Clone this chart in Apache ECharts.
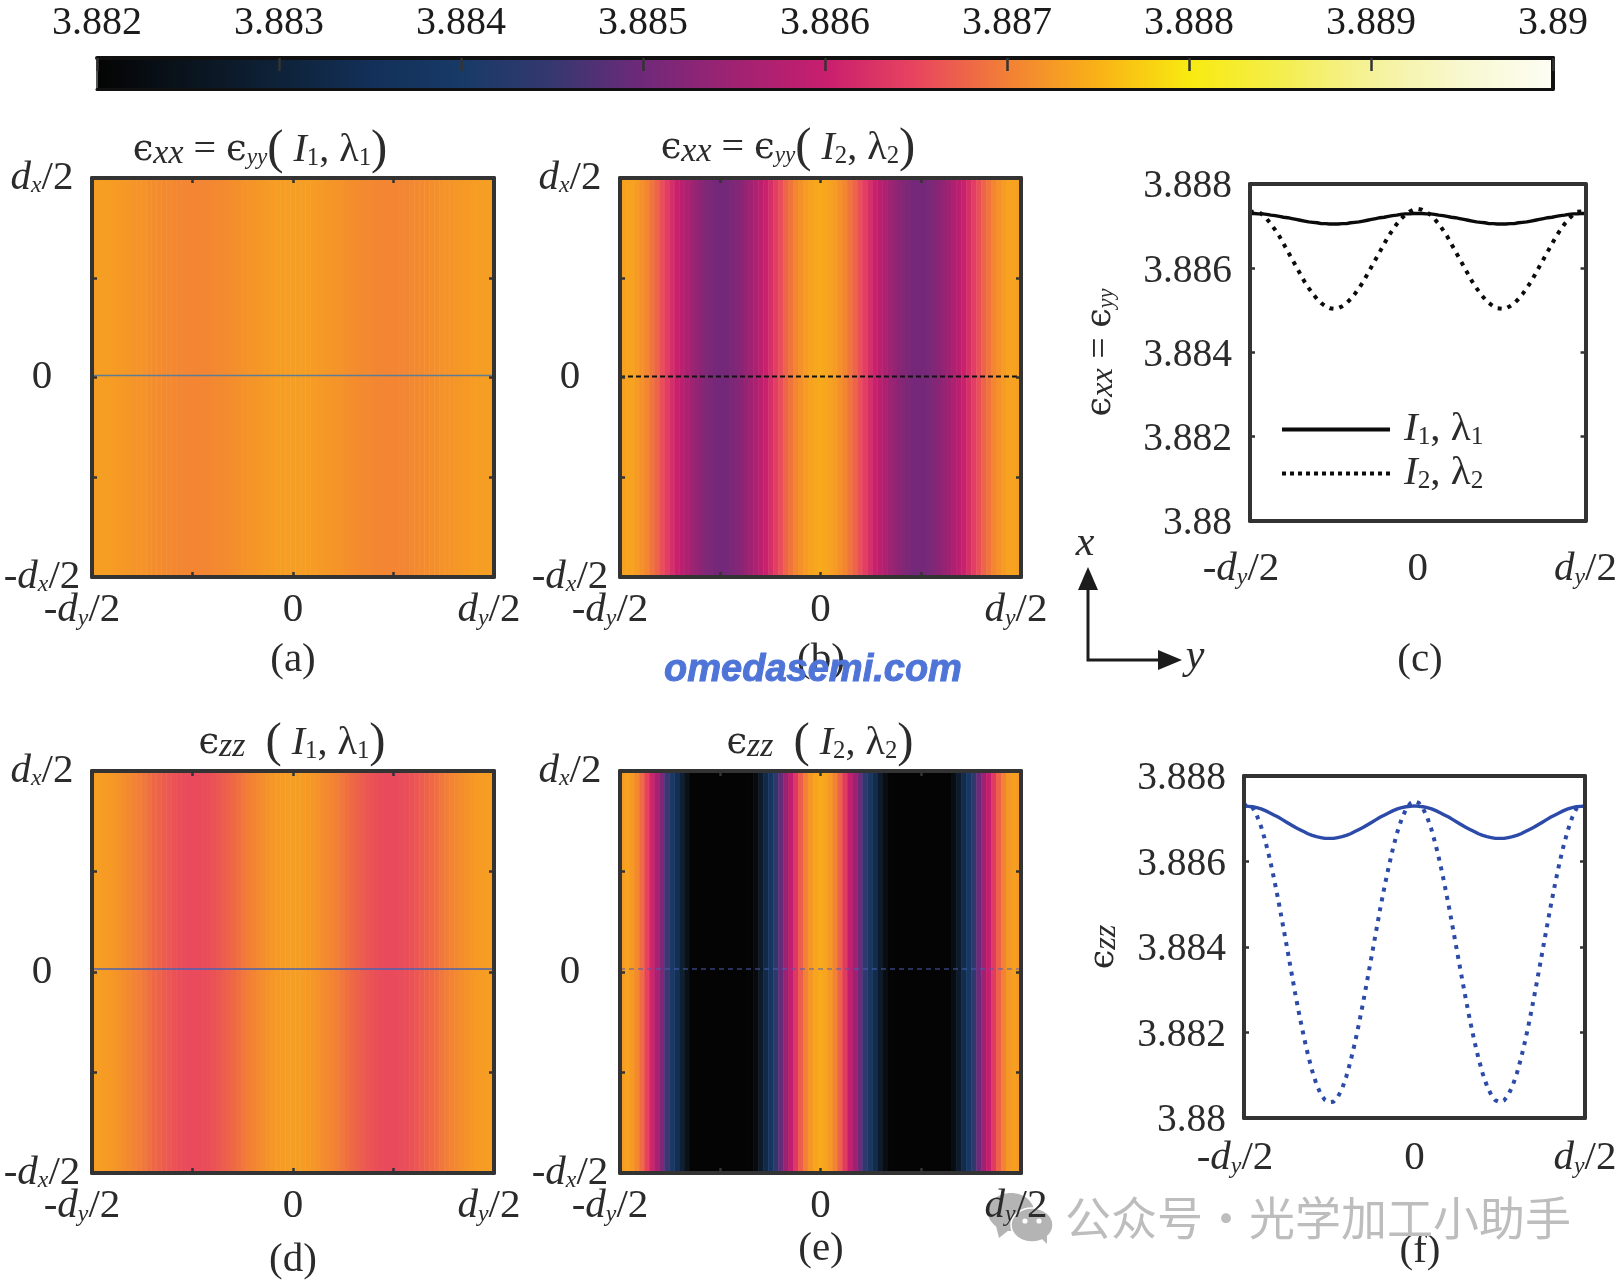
<!DOCTYPE html>
<html>
<head>
<meta charset="utf-8">
<title>Permittivity maps</title>
<script src="https://cdn.jsdelivr.net/npm/echarts@6/dist/echarts.min.js"></script>
<style>
  html, body { margin: 0; padding: 0; background: #fff; }
  #main { width: 1620px; height: 1284px; }
</style>
</head>
<body>
<div id="main"></div>
<script>
// profiles along y at x = 0, 81 samples (c) and (f)
const exxI1 = [3.88730,3.88730,3.88729,3.88729,3.88728,3.88726,3.88725,3.88723,3.88721,3.88720,3.88718,3.88716,3.88714,3.88712,3.88710,3.88709,3.88708,3.88706,3.88706,3.88705,3.88705,
  3.88705,3.88706,3.88706,3.88708,3.88709,3.88710,3.88712,3.88714,3.88716,3.88718,3.88720,3.88721,3.88723,3.88725,3.88726,3.88728,3.88729,3.88729,3.88730,3.88730,
  3.88730,3.88729,3.88729,3.88728,3.88726,3.88725,3.88723,3.88721,3.88720,3.88718,3.88716,3.88714,3.88712,3.88710,3.88709,3.88708,3.88706,3.88706,3.88705,3.88705,
  3.88705,3.88706,3.88706,3.88708,3.88709,3.88710,3.88712,3.88714,3.88716,3.88718,3.88720,3.88721,3.88723,3.88725,3.88726,3.88728,3.88729,3.88729,3.88730,3.88730];
const exxI2 = [3.88732,3.88735,3.88734,3.88727,3.88717,3.88705,3.88691,3.88676,3.88658,3.88640,3.88622,3.88604,3.88586,3.88568,3.88553,3.88539,3.88527,3.88517,3.88510,3.88505,3.88504,
  3.88505,3.88510,3.88517,3.88527,3.88539,3.88553,3.88568,3.88586,3.88604,3.88622,3.88640,3.88658,3.88676,3.88691,3.88705,3.88717,3.88727,3.88734,3.88739,3.88741,
  3.88739,3.88734,3.88727,3.88717,3.88705,3.88691,3.88676,3.88658,3.88640,3.88622,3.88604,3.88586,3.88568,3.88553,3.88539,3.88527,3.88517,3.88510,3.88505,3.88504,
  3.88505,3.88510,3.88517,3.88527,3.88539,3.88553,3.88568,3.88586,3.88604,3.88622,3.88640,3.88658,3.88676,3.88691,3.88705,3.88717,3.88727,3.88734,3.88735,3.88732];
const ezzI1 = [3.88730,3.88729,3.88728,3.88726,3.88723,3.88719,3.88714,3.88709,3.88704,3.88698,3.88692,3.88686,3.88680,3.88675,3.88670,3.88665,3.88661,3.88658,3.88656,3.88654,3.88654,
  3.88654,3.88656,3.88658,3.88661,3.88665,3.88670,3.88675,3.88680,3.88686,3.88692,3.88698,3.88704,3.88709,3.88714,3.88719,3.88723,3.88726,3.88728,3.88729,3.88730,
  3.88729,3.88728,3.88726,3.88723,3.88719,3.88714,3.88709,3.88704,3.88698,3.88692,3.88686,3.88680,3.88675,3.88670,3.88665,3.88661,3.88658,3.88656,3.88654,3.88654,
  3.88654,3.88656,3.88658,3.88661,3.88665,3.88670,3.88675,3.88680,3.88686,3.88692,3.88698,3.88704,3.88709,3.88714,3.88719,3.88723,3.88726,3.88728,3.88729,3.88730];
const ezzI2 = [3.88728,3.88735,3.88726,3.88708,3.88682,3.88648,3.88608,3.88562,3.88512,3.88458,3.88404,3.88348,3.88292,3.88240,3.88192,3.88148,3.88110,3.88079,3.88056,3.88042,3.88037,
  3.88038,3.88049,3.88068,3.88097,3.88133,3.88175,3.88222,3.88273,3.88327,3.88382,3.88437,3.88492,3.88543,3.88590,3.88633,3.88670,3.88700,3.88722,3.88736,3.88741,
  3.88737,3.88724,3.88703,3.88674,3.88638,3.88596,3.88549,3.88498,3.88444,3.88389,3.88334,3.88280,3.88229,3.88182,3.88140,3.88104,3.88075,3.88054,3.88041,3.88037,
  3.88041,3.88054,3.88075,3.88104,3.88140,3.88182,3.88229,3.88280,3.88334,3.88389,3.88444,3.88498,3.88549,3.88596,3.88638,3.88674,3.88703,3.88724,3.88732,3.88728];

const colorTicks = ['3.882','3.883','3.884','3.885','3.886','3.887','3.888','3.889','3.89'];
const lineTicks = ['3.88','3.882','3.884','3.886','3.888'];
// one colour every 0.0005 from 3.882 to 3.89
const colorStops = ['#040404','#0a141e','#0e2238','#133058','#173a66','#35386f','#70297a','#a02272','#c81e6e','#e8455f','#f28036','#f9b216','#f8ea10','#f4ee4c','#f5f29a','#f8f8d0','#fdfdf4'];

const serif = 'Liberation Serif';
const ink = '#2b2b2b';

function mathRich(size, subDrop){
  return {
    i: { fontFamily: serif, fontStyle: 'italic', fontSize: size, color: ink },
    n: { fontFamily: serif, fontSize: size, color: ink },
    s: { fontFamily: serif, fontStyle: 'italic', fontSize: size * 0.58, color: ink, padding: [subDrop * 2, 0, 0, 0] },
    sn: { fontFamily: serif, fontSize: size * 0.62, color: ink, padding: [subDrop * 2, 0, 0, 0] },
    b: { fontFamily: serif, fontStyle: 'italic', fontSize: size * 0.85, color: ink, padding: [subDrop, 0, 0, 0] },
    p: { fontFamily: serif, fontSize: size * 1.22, color: ink },
    e: { fontFamily: 'DejaVu Serif', fontSize: size * 0.92, color: ink },
    g24: { width: 24 }, g18: { width: 18 }, g20: { width: 20 }, g10: { width: 10 }
  };
}
const tickRich = mathRich(41, 8);

let grids = [], xAxes = [], yAxes = [], series = [];

function hiddenAxis(extra){
  return Object.assign({ show: false }, extra);
}

// value axes drawn as a closed box with ticks pointing in
function boxAxes(gridIndex, xMax, xStep, yMin, yMax, yStep, xLabel, yLabel, opt){
  const line = { show: true, onZero: false, lineStyle: { color: '#333', width: 4 } };
  const tick = { show: true, inside: true, length: 5, lineStyle: { color: '#333', width: 2.5 } };
  const xTick = opt.xTick === false ? { show: false } : tick;
  const xIdx = xAxes.length, yIdx = yAxes.length;
  xAxes.push({ type: 'value', gridIndex, position: 'bottom', min: 0, max: xMax, interval: xStep, z: 4,
    axisLine: line, axisTick: xTick, splitLine: { show: false },
    axisLabel: { show: true, margin: opt.xMargin, hideOverlap: false, showMinLabel: true, showMaxLabel: true, formatter: xLabel, rich: tickRich, fontFamily: serif, fontSize: 41, color: ink } });
  xAxes.push({ type: 'value', gridIndex, position: 'top', min: 0, max: xMax, interval: xStep, z: 4,
    axisLine: line, axisTick: xTick, splitLine: { show: false }, axisLabel: { show: false } });
  yAxes.push(Object.assign({ type: 'value', gridIndex, position: 'left', min: yMin, max: yMax, interval: yStep, z: 4,
    axisLine: line, axisTick: tick, splitLine: { show: false },
    axisLabel: { show: true, margin: opt.yMargin, align: opt.yAlign, padding: opt.yPad || 0, showMinLabel: true, showMaxLabel: true, formatter: yLabel, rich: tickRich, fontFamily: serif, fontSize: opt.ySize || 41, color: ink } }, opt.yName || {}));
  yAxes.push({ type: 'value', gridIndex, position: 'right', min: yMin, max: yMax, interval: yStep, z: 4,
    axisLine: line, axisTick: tick, splitLine: { show: false }, axisLabel: { show: false } });
  return { xIdx, yIdx };
}

const heatXLabels = { 0: '{n|-}{i|d}{s|y}{n|/2}{g20| }', 40: '{n|0}', 80: '{i|d}{s|y}{n|/2}{g10| }' };
const heatYLabels = { 0: '{n|-}{i|d}{s|x}{n|/2}', 2: '{n|0}', 4: '{i|d}{s|x}{n|/2}' };
const lineXLabels = { 0: '{n|-}{i|d}{s|y}{n|/2}{g18| }', 40: '{n|0}', 80: '{i|d}{s|y}{n|/2}' };

function addHeatPanel(rect, values, midLine, midY){
  const heatGrid = grids.length;
  grids.push(rect);
  const cols = values.map((v, i) => String(i));
  xAxes.push(hiddenAxis({ type: 'category', gridIndex: heatGrid, data: cols }));
  yAxes.push(hiddenAxis({ type: 'category', gridIndex: heatGrid, data: ['x'] }));
  series.push({
    type: 'heatmap', name: 'map' + heatGrid, z: 1, progressive: 0,
    xAxisIndex: xAxes.length - 1, yAxisIndex: yAxes.length - 1,
    data: values.map((v, i) => [i, 0, v])
  });
  const frameGrid = grids.length;
  grids.push(rect);
  const box = boxAxes(frameGrid, 80, 20, 0, 4, 1,
    v => heatXLabels[v] || '', v => heatYLabels[v] || '',
    { xMargin: 13, yMargin: 50, yAlign: 'center' });
  series.push({
    type: 'line', name: 'mid' + frameGrid, z: 3, symbol: 'none', silent: true,
    xAxisIndex: box.xIdx, yAxisIndex: box.yIdx, lineStyle: midLine,
    data: [[0, midY], [80, midY]]
  });
}

function addLinePanel(rect, solid, dotted, color, yName, xMargin){
  const g = grids.length;
  grids.push(rect);
  const box = boxAxes(g, 80, 40, 3.88, 3.888, 0.002,
    v => lineXLabels[v] || '', v => lineTicks[Math.round((v - 3.88) / 0.002)],
    { xTick: false, xMargin, yMargin: 18, yPad: [6, 0, 0, 0], ySize: 39.5, yName });
  [['I1', solid, { color, width: 3.4 }], ['I2', dotted, { color, width: 4, type: [4, 6] }]].forEach(d => {
    series.push({
      type: 'line', name: d[0], z: 3, symbol: 'none', smooth: false,
      xAxisIndex: box.xIdx, yAxisIndex: box.yIdx, lineStyle: d[2], itemStyle: { color },
      data: d[1].map((v, i) => [i, v])
    });
  });
}

// colour bar frame
grids.push({ left: 97, top: 58, width: 1456, height: 31 });
xAxes.push({ type: 'value', gridIndex: 0, position: 'top', min: 3.882, max: 3.89, interval: 0.001, z: 8,
  axisLine: { show: true, onZero: false, lineStyle: { color: '#111', width: 4 } },
  axisTick: { show: true, inside: true, length: 13, lineStyle: { color: '#333', width: 2.5 } },
  splitLine: { show: false },
  axisLabel: { show: true, margin: 15, showMinLabel: true, showMaxLabel: true, fontFamily: serif, fontSize: 40, color: '#1c1c1c',
    formatter: v => colorTicks[Math.round((v - 3.882) / 0.001)] } });
xAxes.push({ type: 'value', gridIndex: 0, position: 'bottom', min: 3.882, max: 3.89, z: 8,
  axisLine: { show: true, onZero: false, lineStyle: { color: '#111', width: 3 } },
  axisTick: { show: false }, splitLine: { show: false }, axisLabel: { show: false } });
yAxes.push({ type: 'value', gridIndex: 0, position: 'left', min: 0, max: 1, z: 8,
  axisLine: { show: true, onZero: false, lineStyle: { color: '#555', width: 2 } },
  axisTick: { show: false }, splitLine: { show: false }, axisLabel: { show: false } });
yAxes.push({ type: 'value', gridIndex: 0, position: 'right', min: 0, max: 1, z: 8,
  axisLine: { show: true, onZero: false, lineStyle: { color: '#111', width: 4 } },
  axisTick: { show: false }, splitLine: { show: false }, axisLabel: { show: false } });

addHeatPanel({ left: 92, top: 178, width: 402, height: 399 }, exxI1, { color: '#5f7d92', width: 1.5 }, 2.02);
addHeatPanel({ left: 620, top: 178, width: 401, height: 399 }, exxI2, { color: '#111', width: 2, type: [5, 3] }, 2.01);
addHeatPanel({ left: 92, top: 771, width: 402, height: 402 }, ezzI1, { color: '#4a63b0', width: 1.5 }, 2.03);
addHeatPanel({ left: 620, top: 771, width: 401, height: 402 }, ezzI2, { color: '#4b5fb5', width: 1, type: [5, 4] }, 2.03);
const heatSeries = series.map((s, i) => s.type === 'heatmap' ? i : -1).filter(i => i >= 0);

addLinePanel({ left: 1250, top: 184, width: 342, height: 337 }, exxI1, exxI2, '#0b0b0b',
  { name: '{e|ϵ}{b|xx}{n| = }{e|ϵ}{s|yy}', nameLocation: 'middle', nameGap: 130,
    nameTextStyle: { rich: mathRich(38, 6) } }, 28);
addLinePanel({ left: 1244, top: 776, width: 341, height: 342 }, ezzI1, ezzI2, '#2c4aa8',
  { name: '{e|ϵ}{b|zz}', nameLocation: 'middle', nameGap: 121,
    nameTextStyle: { rich: mathRich(38, 6) } }, 20);

function label(text, left, top, size, extra){
  return Object.assign({ text, left, top, padding: 0, textAlign: 'center', textVerticalAlign: 'middle',
    textStyle: { rich: mathRich(size || 41, 8), fontFamily: serif, fontSize: size || 41, color: ink, fontWeight: 'normal' } }, extra || {});
}

const titles = [
  label('{e|ϵ}{b|xx}{n| = }{e|ϵ}{s|yy}{p|(} {i|I}{sn|1}{n|, λ}{sn|1}{p|)}', 260, 150, 40),
  label('{e|ϵ}{b|xx}{n| = }{e|ϵ}{s|yy}{p|(} {i|I}{sn|2}{n|, λ}{sn|2}{p|)}', 788, 148, 40),
  label('{e|ϵ}{b|zz}  {p|(} {i|I}{sn|1}{n|, λ}{sn|1}{p|)}', 292, 743, 40),
  label('{e|ϵ}{b|zz}  {p|(} {i|I}{sn|2}{n|, λ}{sn|2}{p|)}', 820, 743, 40),
  label('(a)', 293, 660),
  label('(b)', 821, 660),
  label('(c)', 1420, 660),
  label('(d)', 293, 1260),
  label('(e)', 821, 1249),
  label('(f)', 1420, 1251),
  label('{i|x}', 1085, 544, 42),
  label('{i|y}', 1195, 657, 42),
  { text: 'omedasemi.com', left: 813, top: 671, padding: 0, textAlign: 'center', textVerticalAlign: 'middle', z: 9,
    textStyle: { fontFamily: 'Liberation Sans', fontStyle: 'italic', fontWeight: 'bold', fontSize: 38, color: '#4f74d8', textBorderColor: '#4f74d8', textBorderWidth: 1 } },
  { text: '公众号·光学加工小助手', left: 1318, top: 1218, padding: 0, textAlign: 'center', textVerticalAlign: 'middle', z: 9,
    textStyle: { fontFamily: 'Noto Sans CJK SC', fontWeight: 'normal', fontSize: 46, color: '#bdbdbd' } }
];

// x/y orientation arrows and the WeChat mark
const arrowStyle = { fill: '#1c1c1c' };
const graphics = [
  { type: 'polyline', z: 9, shape: { points: [[1088, 588], [1088, 660], [1160, 660]] }, style: { stroke: '#1c1c1c', lineWidth: 3, fill: null } },
  { type: 'polygon', z: 9, shape: { points: [[1088, 567], [1078, 590], [1098, 590]] }, style: arrowStyle },
  { type: 'polygon', z: 9, shape: { points: [[1182, 660], [1158, 650], [1158, 670]] }, style: arrowStyle },
  { type: 'ellipse', z: 1, shape: { cx: 1011, cy: 1212, rx: 23, ry: 19 }, style: { fill: '#b4b4b4' } },
  { type: 'polygon', z: 1, shape: { points: [[996, 1226], [999, 1238], [1009, 1230]] }, style: { fill: '#b4b4b4' } },
  { type: 'ellipse', z: 2, shape: { cx: 1032, cy: 1225, rx: 21, ry: 17 }, style: { fill: '#b4b4b4', stroke: '#fff', lineWidth: 1.5 } },
  { type: 'polygon', z: 2, shape: { points: [[1041, 1238], [1047, 1244], [1047, 1234]] }, style: { fill: '#b4b4b4' } },
  { type: 'circle', z: 3, shape: { cx: 1025, cy: 1221, r: 2.6 }, style: { fill: '#fff' } },
  { type: 'circle', z: 3, shape: { cx: 1039, cy: 1221, r: 2.6 }, style: { fill: '#fff' } }
];

const chart = echarts.init(document.getElementById('main'), null, { renderer: 'canvas', width: 1620, height: 1284 });
chart.setOption({
  animation: false,
  backgroundColor: '#fff',
  title: titles,
  grid: grids,
  xAxis: xAxes,
  yAxis: yAxes,
  graphic: graphics,
  legend: {
    left: 1280, top: 409, orient: 'vertical', padding: 0, selectedMode: false,
    itemWidth: 108, itemHeight: 30, itemGap: 3,
    itemStyle: { opacity: 0 },
    data: [
      { name: 'I1', lineStyle: { color: '#0b0b0b', width: 4 } },
      { name: 'I2', lineStyle: { color: '#0b0b0b', width: 4, type: [4, 4] } }
    ],
    formatter: n => n === 'I1' ? '{i|I}{sn|1}{n|, λ}{sn|1}' : '{i|I}{sn|2}{n|, λ}{sn|2}',
    textStyle: { rich: mathRich(41, 8), padding: [0, 0, 0, 9] }
  },
  visualMap: {
    type: 'continuous', show: true, min: 3.882, max: 3.89, dimension: 2, seriesIndex: heatSeries,
    orient: 'horizontal', left: 97, top: 58, padding: 0, itemWidth: 31, itemHeight: 1456,
    calculable: false, hoverLink: false, realtime: false, text: null, showLabel: false,
    textStyle: { fontSize: 0 }, z: 2,
    inRange: { color: colorStops },
    outOfRange: { color: ['#030303'] }
  },
  series
});
</script>
</body>
</html>
